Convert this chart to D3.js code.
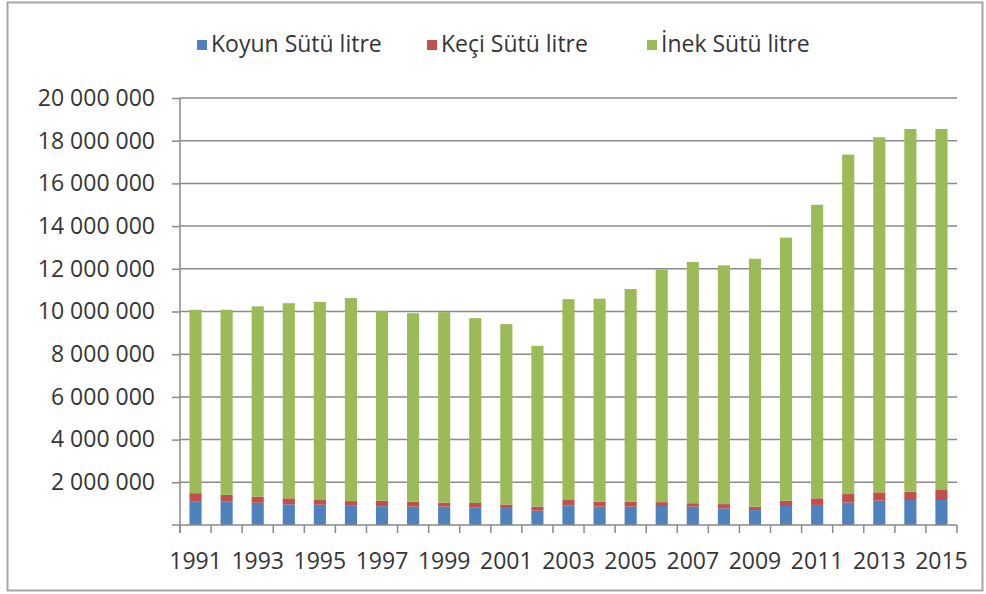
<!DOCTYPE html>
<html>
<head>
<meta charset="utf-8">
<script src="https://cdn.jsdelivr.net/npm/d3@7"></script>
<style>
    html, body { margin: 0; padding: 0; background: #fff; overflow: hidden; }
    svg { display: block; }
</style>
</head>
<body>
<svg id="chart"></svg>
<script>
const chartWidth = 986;
const chartHeight = 594;
const margin = {top: 98, right: 29, bottom: 69, left: 180};
const innerWidth = chartWidth - margin.left - margin.right;
const innerHeight = chartHeight - margin.top - margin.bottom;

// values, litres
const years = [1991, 1992, 1993, 1994, 1995, 1996, 1997, 1998, 1999, 2000, 2001, 2002, 2003,
    2004, 2005, 2006, 2007, 2008, 2009, 2010, 2011, 2012, 2013, 2014, 2015];
const koyun = [1090000, 1090000, 1040000, 970000, 950000, 900000, 880000, 860000, 860000, 830000,
    800000, 670000, 920000, 860000, 860000, 890000, 860000, 780000, 700000, 890000,
    940000, 1050000, 1140000, 1170000, 1170000];
const keci = [400000, 320000, 290000, 280000, 250000, 220000, 260000, 230000, 190000, 200000,
    160000, 190000, 250000, 230000, 230000, 180000, 160000, 200000, 160000, 250000,
    310000, 400000, 390000, 390000, 470000];
const inek = [8590000, 8670000, 8910000, 9140000, 9250000, 9510000, 8890000, 8830000, 8920000, 8660000,
    8450000, 7530000, 9410000, 9510000, 9960000, 10890000, 11300000, 11180000, 11610000, 12320000,
    13750000, 15900000, 16630000, 16990000, 16910000];

const seriesNames = ["Koyun Sütü litre", "Keçi Sütü litre", "İnek Sütü litre"];
const seriesKeys = ["koyun", "keci", "inek"];
const seriesColors = ["#4f81bd", "#c0504d", "#9bbb59"];
const yTicks = [2000000, 4000000, 6000000, 8000000, 10000000, 12000000, 14000000, 16000000, 18000000, 20000000];

const AXIS_COLOR = "#8a8a8a";
const TEXT_COLOR = "#353535";
const FONT = "'Open Sans', 'Noto Sans', sans-serif";
const FONT_SIZE = 23;

let table = years.map((y, i) => ({year: y, koyun: koyun[i], keci: keci[i], inek: inek[i]}));
let stacked = d3.stack().keys(seriesKeys)(table);

let svg = d3.select("#chart")
    .attr("width", chartWidth)
    .attr("height", chartHeight);

// outer frame, drawn as a path
svg.append("path")
    .attr("d", "M7.5,2.5H982.5V590.5H7.5Z")
    .attr("fill", "none")
    .attr("stroke", "#a6a6a6")
    .attr("stroke-width", 2);

let chartG = svg.append("g")
    .attr("transform", `translate(${margin.left}, ${margin.top})`);

let xScale = d3.scaleBand()
    .domain(years)
    .range([0, innerWidth])
    .paddingInner(0.61)
    .paddingOuter(0.305);
let yScale = d3.scaleLinear()
    .domain([0, 20000000])
    .range([innerHeight, 0]);

// gridlines
chartG.append("g")
    .selectAll("line")
    .data(yTicks)
    .join("line")
    .attr("x1", 0)
    .attr("x2", innerWidth)
    .attr("y1", d => yScale(d))
    .attr("y2", d => yScale(d))
    .attr("stroke", AXIS_COLOR)
    .attr("stroke-width", 1.5);

// bars
chartG.append("g")
    .selectAll("g")
    .data(stacked)
    .join("g")
    .attr("fill", (d, i) => seriesColors[i])
    .selectAll("rect")
    .data(d => d)
    .join("rect")
    .attr("x", d => xScale(d.data.year))
    .attr("y", d => yScale(d[1]))
    .attr("width", xScale.bandwidth())
    .attr("height", d => yScale(d[0]) - yScale(d[1]));

// y axis
let fmt = d => d3.format(",")(d).replace(/,/g, " ");
let yAxis = chartG.append("g")
    .call(d3.axisLeft(yScale).tickValues(yTicks).tickSize(8).tickPadding(17).tickFormat(fmt));
yAxis.select(".domain").remove();
yAxis.selectAll(".tick line").attr("stroke", AXIS_COLOR).attr("stroke-width", 1.5);
yAxis.selectAll("text")
    .attr("font-size", FONT_SIZE)
    .attr("font-family", FONT)
    .attr("fill", TEXT_COLOR);

chartG.append("line")
    .attr("x1", 0).attr("x2", 0)
    .attr("y1", 0).attr("y2", innerHeight + 8)
    .attr("stroke", AXIS_COLOR)
    .attr("stroke-width", 1.5);

// x axis: line, ticks between categories, labels every other year
chartG.append("line")
    .attr("x1", -8).attr("x2", innerWidth)
    .attr("y1", innerHeight).attr("y2", innerHeight)
    .attr("stroke", AXIS_COLOR)
    .attr("stroke-width", 1.5);

let step = xScale.step();
chartG.append("g")
    .selectAll("line")
    .data(d3.range(years.length + 1))
    .join("line")
    .attr("x1", i => i * step)
    .attr("x2", i => i * step)
    .attr("y1", innerHeight)
    .attr("y2", innerHeight + 8)
    .attr("stroke", AXIS_COLOR)
    .attr("stroke-width", 1.5);

chartG.append("g")
    .selectAll("text")
    .data(years.filter((y, i) => i % 2 === 0))
    .join("text")
    .attr("x", d => xScale(d) + xScale.bandwidth() / 2)
    .attr("y", innerHeight + 37)
    .attr("dy", "0.32em")
    .attr("text-anchor", "middle")
    .attr("font-size", FONT_SIZE)
    .attr("font-family", FONT)
    .attr("fill", TEXT_COLOR)
    .text(d => d);

// legend
let legendX = [197, 427, 647];
let legend = svg.append("g")
    .selectAll("g")
    .data(seriesNames)
    .join("g")
    .attr("transform", (d, i) => `translate(${legendX[i]}, 45)`);
legend.append("rect")
    .attr("x", 0)
    .attr("y", -5)
    .attr("width", 10)
    .attr("height", 10)
    .attr("fill", (d, i) => seriesColors[i]);
legend.append("text")
    .attr("x", 14)
    .attr("y", 0)
    .attr("dy", "0.32em")
    .attr("font-size", 23)
    .attr("font-family", FONT)
    .attr("fill", TEXT_COLOR)
    .text(d => d);
</script>
</body>
</html>
